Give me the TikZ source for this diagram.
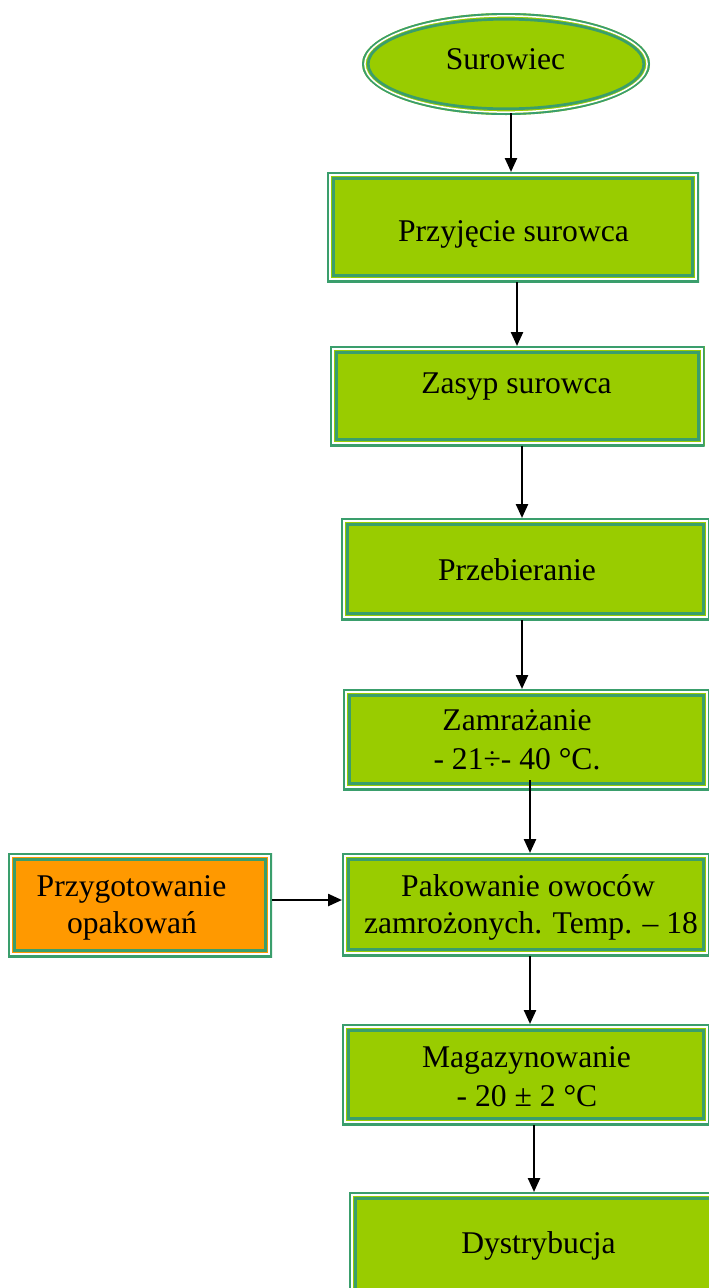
\documentclass[tikz,border=0pt]{standalone}
\usepackage{fontspec}
\setmainfont{Liberation Serif}
\usetikzlibrary{arrows.meta,shapes.geometric}

\definecolor{stagefill}{HTML}{99CC00}
\definecolor{prepfill}{HTML}{FF9900}
\definecolor{rimgreen}{HTML}{3A9E6C}

\tikzset{
  % triple rim: outer green line, white gap, inner green line
  rimbox/.style={path picture={
    \draw[rimgreen,line width=4pt]
      (path picture bounding box.south west) rectangle (path picture bounding box.north east);
    \draw[white,line width=1.7pt]
      ([shift={(2.85pt,2.85pt)}]path picture bounding box.south west) rectangle
      ([shift={(-2.85pt,-2.85pt)}]path picture bounding box.north east);
    \draw[rimgreen,line width=2.7pt]
      ([shift={(6.35pt,6.35pt)}]path picture bounding box.south west) rectangle
      ([shift={(-6.35pt,-6.35pt)}]path picture bounding box.north east);
  }},
  rimoval/.style={path picture={
    \draw[rimgreen,line width=4pt] (path picture bounding box.center)
      ellipse [x radius=144pt, y radius=51pt];
    \draw[white,line width=1.5pt] (path picture bounding box.center)
      ellipse [x radius=141.1pt, y radius=48.1pt];
    \draw[rimgreen,line width=2.7pt] (path picture bounding box.center)
      ellipse [x radius=137.8pt, y radius=44.8pt];
  }},
  stage/.style={rectangle, fill=stagefill, inner sep=0pt, outer sep=0pt, rimbox},
  prep/.style={stage, fill=prepfill},
  start/.style={ellipse, fill=stagefill, inner sep=0pt, outer sep=0pt,
    minimum width=288pt, minimum height=102pt, rimoval},
  lbl/.style={inner sep=0pt, anchor=base, font=\fontsize{31.6}{38}\selectfont},
  flow/.style={draw=black, line width=2.4pt, -{Triangle[length=14pt,width=12pt]}}
}

\begin{document}
\begin{tikzpicture}[x=1pt,y=-1pt]
\useasboundingbox (0,0) rectangle (709,1288);
\clip (0,0) rectangle (709,1288);

% process boxes
\node[start] (e) at (506,64) {};
\node[stage, minimum width=372pt, minimum height=110pt] (b1) at (513,227) {};
\node[stage, minimum width=374.5pt, minimum height=100pt] (b2) at (517.25,396) {};
\node[stage, minimum width=369pt, minimum height=102pt] (b3) at (525.5,569) {};
\node[stage, minimum width=367pt, minimum height=101pt] (b4) at (526.5,739.5) {};
\node[stage, minimum width=368pt, minimum height=103pt] (b5) at (526,904.5) {};
\node[prep,  minimum width=264pt, minimum height=104pt] (bp) at (140,905) {};
\node[stage, minimum width=368pt, minimum height=101pt] (b6) at (526,1074.5) {};
\node[stage, minimum width=381pt, minimum height=118pt] (b7) at (539.5,1251) {};

% texts
\node[lbl] (t0) at (505.5,69) {Surowiec};
\node[lbl] (t1) at (513.5,241) {Przyjęcie surowca};
\node[lbl] (t2) at (516.5,393) {Zasyp surowca};
\node[lbl] (t3) at (517,580) {Przebieranie};
\node[lbl] (t4a) at (517,730) {Zamrażanie};
\node[lbl] (t4b) at (517,769) {- 21÷- 40 °C.};
\node[lbl] (t5a) at (528,896) {Pakowanie owoców};
\node[lbl] (t5b) at (531,933) {zamrożonych. Temp. – 18};
\node[lbl] (tpa) at (131.5,896) {Przygotowanie};
\node[lbl] (tpb) at (132,933) {opakowań};
\node[lbl] (t6a) at (526.5,1067) {Magazynowanie};
\node[lbl] (t6b) at (527,1106) {- 20 ± 2 °C};
\node[lbl] (t7) at (538.5,1253) {Dystrybucja};

% connectors
\draw[flow] ([xshift=5pt,yshift=2pt]e.south) -- ([xshift=-2pt]b1.north);
\draw[flow] ([xshift=4pt]b1.south) -- ([xshift=-0.25pt]b2.north);
\draw[flow] ([xshift=4.75pt]b2.south) -- ([xshift=-3.5pt]b3.north);
\draw[flow] ([xshift=-3.5pt]b3.south) -- ([xshift=-4.5pt]b4.north);
\draw[flow] ([xshift=3.5pt,yshift=10pt]b4.south) -- ([xshift=4pt]b5.north);
\draw[flow] ([xshift=4pt]b5.south) -- ([xshift=4pt]b6.north);
\draw[flow] ([xshift=8pt]b6.south) -- ([xshift=-5.5pt]b7.north);
\draw[flow] ([yshift=5pt]bp.east) -- ([yshift=4.5pt]b5.west);
\end{tikzpicture}
\end{document}
